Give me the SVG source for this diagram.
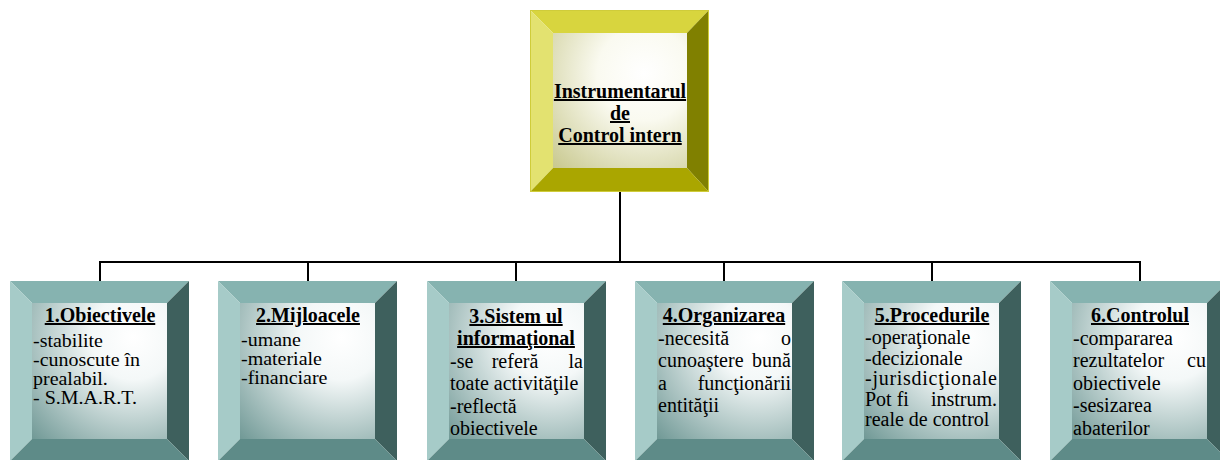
<svg xmlns="http://www.w3.org/2000/svg" xmlns:xlink="http://www.w3.org/1999/xlink" width="1220" height="460" viewBox="0 0 1220 460">
<style>
  text { font-family: "Liberation Serif", "Times New Roman", serif; font-size: 20px; fill: #000; }
  .t { font-weight: bold; text-decoration: underline; text-anchor: middle; }
  .e { text-anchor: end; }
  .m { text-anchor: middle; }
  .s text { font-size: 18.5px; }
  .conn { stroke: #000; stroke-width: 2; fill: none; }
</style>
<defs>
  <radialGradient id="gTeal" cx="0.75" cy="0.25" r="1.05">
    <stop offset="0" stop-color="#ffffff"/>
    <stop offset="0.3" stop-color="#f4f8f8"/>
    <stop offset="1" stop-color="#729a97"/>
  </radialGradient>
  <radialGradient id="gOlive" cx="0.68" cy="0.3" r="1.0">
    <stop offset="0" stop-color="#ffffff"/>
    <stop offset="0.35" stop-color="#fafaf0"/>
    <stop offset="1" stop-color="#c6c68a"/>
  </radialGradient>
  <g id="tealBox">
    <polygon points="0,0 179,0 157,22 22,22" fill="#86b3b0"/>
    <polygon points="0,0 22,22 22,158 0,180" fill="#a6cbc8"/>
    <polygon points="179,0 179,180 157,158 157,22" fill="#3e605d"/>
    <polygon points="0,180 22,158 157,158 179,180" fill="#5e8b88"/>
    <rect x="22" y="22" width="135" height="136" fill="url(#gTeal)"/>
  </g>
  <g id="oliveBox">
    <polygon points="0,0 179,0 157,23 23,23" fill="#d8d53e"/>
    <polygon points="0,0 23,23 23,158 0,182" fill="#e3e270"/>
    <polygon points="179,0 179,182 157,158 157,23" fill="#808000"/>
    <polygon points="0,182 23,158 157,158 179,182" fill="#aaa600"/>
    <rect x="23" y="23" width="134" height="135" fill="url(#gOlive)"/>
    <rect x="0.5" y="0.5" width="178" height="181" fill="none" stroke="#cfcc3a" stroke-width="1"/>
  </g>
</defs>
<rect width="1220" height="460" fill="#ffffff"/>

<g id="connectors">
  <line class="conn" x1="620" y1="192" x2="620" y2="262" stroke-width="2.5"/>
  <line class="conn" x1="99" y1="262" x2="1141" y2="262"/>
  <line class="conn" x1="100" y1="262" x2="100" y2="281"/>
  <line class="conn" x1="308" y1="262" x2="308" y2="281"/>
  <line class="conn" x1="516" y1="262" x2="516" y2="281"/>
  <line class="conn" x1="724" y1="262" x2="724" y2="281"/>
  <line class="conn" x1="932" y1="262" x2="932" y2="281"/>
  <line class="conn" x1="1140" y1="262" x2="1140" y2="281"/>
</g>

<g id="root">
  <use xlink:href="#oliveBox" x="530" y="10"/>
  <text class="t" x="620" y="98">Instrumentarul</text>
  <text class="t" x="620" y="120">de</text>
  <text class="t" x="620" y="142">Control intern</text>
</g>

<g id="node1">
  <use xlink:href="#tealBox" x="10" y="281"/>
  <text class="t" x="100" y="322">1.Obiectivele</text>
  <g class="s" transform="translate(33,0) scale(1.08,1) translate(-33,0)">
    <text x="33" y="347">-stabilite</text>
    <text x="33" y="366">-cunoscute în</text>
    <text x="33" y="385">prealabil.</text>
    <text x="33" y="404">- S.M.A.R.T.</text>
  </g>
</g>

<g id="node2">
  <use xlink:href="#tealBox" x="218" y="281"/>
  <text class="t" x="308" y="322">2.Mijloacele</text>
  <g class="s" transform="translate(241,0) scale(1.08,1) translate(-241,0)">
    <text x="241" y="346">-umane</text>
    <text x="241" y="365">-materiale</text>
    <text x="241" y="384">-financiare</text>
  </g>
</g>

<g id="node3">
  <use xlink:href="#tealBox" x="427" y="281"/>
  <text class="t" x="516" y="323">3.Sistem ul</text>
  <text class="t" x="516" y="345">informaţional</text>
  <text x="450" y="367.5">-se</text>
  <text class="m" x="515" y="367.5">referă</text>
  <text class="e" x="583" y="367.5">la</text>
  <text x="450" y="390">toate activităţile</text>
  <text x="450" y="412.5">-reflectă</text>
  <text x="450" y="435">obiectivele</text>
</g>

<g id="node4">
  <use xlink:href="#tealBox" x="635" y="281"/>
  <text class="t" x="724" y="322">4.Organizarea</text>
  <text x="658" y="345">-necesită</text>
  <text class="e" x="791" y="345">o</text>
  <text x="658" y="367">cunoaştere</text>
  <text class="e" x="791" y="367">bună</text>
  <text x="658" y="389.5">a</text>
  <text class="e" x="791" y="389.5">funcţionării</text>
  <text x="658" y="412">entităţii</text>
</g>

<g id="node5">
  <use xlink:href="#tealBox" x="842" y="281"/>
  <text class="t" x="932" y="322">5.Procedurile</text>
  <text x="865" y="344">-operaţionale</text>
  <text x="865" y="364.5">-decizionale</text>
  <text x="865" y="385" textLength="132" lengthAdjust="spacing">-jurisdicţionale</text>
  <text x="865" y="405.5">Pot fi</text>
  <text class="e" x="997" y="405.5">instrum.</text>
  <text x="865" y="426">reale de control</text>
</g>

<g id="node6">
  <use xlink:href="#tealBox" x="1050" y="281"/>
  <text class="t" x="1140" y="322">6.Controlul</text>
  <text x="1073" y="344.5">-compararea</text>
  <text x="1073" y="367">rezultatelor</text>
  <text class="e" x="1206" y="367">cu</text>
  <text x="1073" y="389.5">obiectivele</text>
  <text x="1073" y="412">-sesizarea</text>
  <text x="1073" y="434.5">abaterilor</text>
</g>
</svg>
